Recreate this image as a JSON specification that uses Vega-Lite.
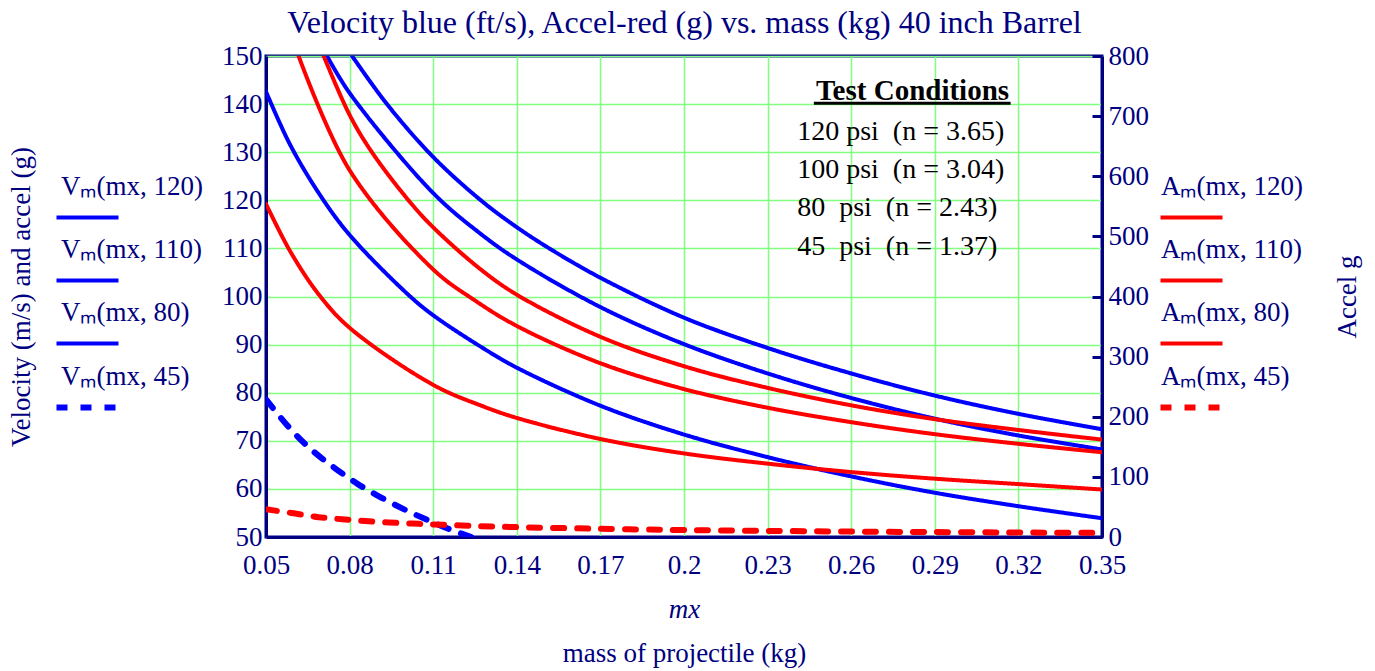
{
  "$schema": "https://vega.github.io/schema/vega-lite/v6.json",
  "width": 836,
  "height": 481,
  "autosize": {"type": "none"},
  "padding": {"left": 266, "top": 56, "right": 273, "bottom": 134},
  "background": "white",
  "datasets": {
    "vel": [
      {"p": "120", "mx": 0.0809, "v": 150}, {"p": "120", "mx": 0.0934, "v": 140}, {"p": "120", "mx": 0.11, "v": 129.0}, {"p": "120", "mx": 0.1271, "v": 120}, {"p": "120", "mx": 0.14, "v": 114.4}, {"p": "120", "mx": 0.1525, "v": 109.7}, {"p": "120", "mx": 0.17, "v": 103.9}, {"p": "120", "mx": 0.2, "v": 95.6}, {"p": "120", "mx": 0.23, "v": 89.3}, {"p": "120", "mx": 0.26, "v": 84.0}, {"p": "120", "mx": 0.29, "v": 79.4}, {"p": "120", "mx": 0.32, "v": 75.6}, {"p": "120", "mx": 0.35, "v": 72.4},
      {"p": "110", "mx": 0.0719, "v": 150}, {"p": "110", "mx": 0.08, "v": 142.3}, {"p": "110", "mx": 0.11, "v": 121.5}, {"p": "110", "mx": 0.1271, "v": 113.0}, {"p": "110", "mx": 0.14, "v": 107.7}, {"p": "110", "mx": 0.17, "v": 97.8}, {"p": "110", "mx": 0.2, "v": 90.1}, {"p": "110", "mx": 0.23, "v": 84.0}, {"p": "110", "mx": 0.26, "v": 78.9}, {"p": "110", "mx": 0.29, "v": 74.6}, {"p": "110", "mx": 0.32, "v": 71.1}, {"p": "110", "mx": 0.35, "v": 68.2},
      {"p": "80", "mx": 0.05, "v": 142.6}, {"p": "80", "mx": 0.0587, "v": 131.5}, {"p": "80", "mx": 0.0695, "v": 121.0}, {"p": "80", "mx": 0.08, "v": 112.8}, {"p": "80", "mx": 0.101, "v": 100.4}, {"p": "80", "mx": 0.11, "v": 96.1}, {"p": "80", "mx": 0.1275, "v": 89.4}, {"p": "80", "mx": 0.14, "v": 85.2}, {"p": "80", "mx": 0.17, "v": 77.3}, {"p": "80", "mx": 0.2, "v": 71.3}, {"p": "80", "mx": 0.23, "v": 66.6}, {"p": "80", "mx": 0.26, "v": 62.6}, {"p": "80", "mx": 0.29, "v": 59.2}, {"p": "80", "mx": 0.32, "v": 56.4}, {"p": "80", "mx": 0.35, "v": 53.9},
      {"p": "45", "mx": 0.05, "v": 78.6}, {"p": "45", "mx": 0.0587, "v": 72.5}, {"p": "45", "mx": 0.0662, "v": 68.2}, {"p": "45", "mx": 0.0743, "v": 64.5}, {"p": "45", "mx": 0.0827, "v": 61.1}, {"p": "45", "mx": 0.091, "v": 58.3}, {"p": "45", "mx": 0.0994, "v": 55.8}, {"p": "45", "mx": 0.1077, "v": 53.6}, {"p": "45", "mx": 0.1155, "v": 51.7}, {"p": "45", "mx": 0.1245, "v": 49.8}
    ],
    "acc": [
      {"p": "120", "mx": 0.0707, "a": 800}, {"p": "120", "mx": 0.08, "a": 702}, {"p": "120", "mx": 0.088, "a": 640}, {"p": "120", "mx": 0.1015, "a": 558}, {"p": "120", "mx": 0.11, "a": 515}, {"p": "120", "mx": 0.1268, "a": 446}, {"p": "120", "mx": 0.14, "a": 403}, {"p": "120", "mx": 0.17, "a": 333}, {"p": "120", "mx": 0.2, "a": 284}, {"p": "120", "mx": 0.23, "a": 248}, {"p": "120", "mx": 0.26, "a": 219}, {"p": "120", "mx": 0.29, "a": 196}, {"p": "120", "mx": 0.32, "a": 178}, {"p": "120", "mx": 0.35, "a": 162},
      {"p": "110", "mx": 0.0617, "a": 800}, {"p": "110", "mx": 0.08, "a": 610}, {"p": "110", "mx": 0.11, "a": 445}, {"p": "110", "mx": 0.1251, "a": 393}, {"p": "110", "mx": 0.14, "a": 351}, {"p": "110", "mx": 0.17, "a": 289}, {"p": "110", "mx": 0.2, "a": 246}, {"p": "110", "mx": 0.23, "a": 215}, {"p": "110", "mx": 0.26, "a": 191}, {"p": "110", "mx": 0.29, "a": 171}, {"p": "110", "mx": 0.32, "a": 155}, {"p": "110", "mx": 0.35, "a": 141},
      {"p": "80", "mx": 0.05, "a": 554}, {"p": "80", "mx": 0.0587, "a": 475}, {"p": "80", "mx": 0.069, "a": 403}, {"p": "80", "mx": 0.08, "a": 348}, {"p": "80", "mx": 0.11, "a": 253}, {"p": "80", "mx": 0.1275, "a": 218}, {"p": "80", "mx": 0.14, "a": 198}, {"p": "80", "mx": 0.17, "a": 163}, {"p": "80", "mx": 0.2, "a": 139}, {"p": "80", "mx": 0.23, "a": 122}, {"p": "80", "mx": 0.26, "a": 108}, {"p": "80", "mx": 0.29, "a": 97}, {"p": "80", "mx": 0.32, "a": 88}, {"p": "80", "mx": 0.35, "a": 79},
      {"p": "45", "mx": 0.05, "a": 46}, {"p": "45", "mx": 0.0605, "a": 39}, {"p": "45", "mx": 0.0689, "a": 33}, {"p": "45", "mx": 0.0773, "a": 29.5}, {"p": "45", "mx": 0.0856, "a": 26.5}, {"p": "45", "mx": 0.094, "a": 24.2}, {"p": "45", "mx": 0.1024, "a": 22.4}, {"p": "45", "mx": 0.1096, "a": 21}, {"p": "45", "mx": 0.1263, "a": 18.2}, {"p": "45", "mx": 0.1423, "a": 16.2}, {"p": "45", "mx": 0.16, "a": 14.5}, {"p": "45", "mx": 0.1768, "a": 13.1}, {"p": "45", "mx": 0.2, "a": 11.6}, {"p": "45", "mx": 0.26, "a": 9.0}, {"p": "45", "mx": 0.35, "a": 6.8}
    ]
  },
  "layer": [
    {
      "layer": [
        {
          "data": {"name": "vel"},
          "mark": {"type": "line", "interpolate": "catmull-rom", "clip": true, "strokeCap": "round"},
          "encoding": {
            "x": {"field": "mx", "type": "quantitative", "scale": {"domain": [0.05, 0.35], "nice": false, "zero": false},
              "axis": {"orient": "bottom", "values": [0.05, 0.08, 0.11, 0.14, 0.17, 0.2, 0.23, 0.26, 0.29, 0.32, 0.35], "labelExpr": "format(datum.value, '.2~f')", "labelFlush": false, "ticks": false, "tickSize": 0, "labelPadding": 15, "grid": true, "title": "mx", "titleFontStyle": "italic", "titlePadding": 18}},
            "y": {"field": "v", "type": "quantitative", "scale": {"domain": [50, 150], "nice": false, "zero": false},
              "axis": {"values": [50, 60, 70, 80, 90, 100, 110, 120, 130, 140, 150], "ticks": false, "tickSize": 0, "labelPadding": 4, "grid": true, "title": "Velocity (m/s) and accel (g)", "titlePadding": 186}},
            "color": {"field": "p", "type": "nominal", "scale": {"domain": ["120", "110", "80", "45"], "range": ["#0000FF", "#0000FF", "#0000FF", "#0000FF"]},
              "legend": {"title": null, "orient": "none", "legendX": -197, "legendY": 113, "symbolType": "M-2,2H2", "labelExpr": "'Vₘ(mx, ' + datum.label + ')'", "labelOffset": -45, "labelBaseline": "middle", "rowPadding": 6}},
            "strokeDash": {"field": "p", "type": "nominal", "scale": {"domain": ["120", "110", "80", "45"], "range": [[1, 0], [1, 0], [1, 0], [11, 13]]},
              "legend": {"title": null, "orient": "none", "legendX": -197, "legendY": 113, "symbolType": "M-2,2H2", "labelExpr": "'Vₘ(mx, ' + datum.label + ')'", "labelOffset": -45, "labelBaseline": "middle", "rowPadding": 6}},
            "strokeWidth": {"field": "p", "type": "nominal", "scale": {"type": "ordinal", "domain": ["120", "110", "80", "45"], "range": [4, 4, 4, 6]}, "legend": null}
          }
        },
        {
          "data": {"values": [{}]},
          "mark": {"type": "text", "align": "center", "baseline": "alphabetic", "font": "Liberation Serif", "fontSize": 29, "fontWeight": "bold", "color": "black"},
          "encoding": {"x": {"datum": 0.282}, "y": {"datum": 140.9}, "text": {"value": "Test Conditions"}}
        },
        {
          "data": {"values": [{}]},
          "mark": {"type": "text", "align": "left", "baseline": "alphabetic", "font": "Liberation Serif", "fontSize": 28, "lineHeight": 38.3, "color": "black"},
          "encoding": {"x": {"datum": 0.2406}, "y": {"datum": 132.6}, "text": {"value": ["120 psi\u00a0 (n = 3.65)", "100 psi\u00a0 (n = 3.04)", "80\u00a0 psi\u00a0 (n = 2.43)", "45\u00a0 psi\u00a0 (n = 1.37)"]}}
        }
      ]
    },
    {
      "data": {"name": "acc"},
      "mark": {"type": "line", "interpolate": "catmull-rom", "clip": true, "strokeCap": "round"},
      "encoding": {
        "x": {"field": "mx", "type": "quantitative", "scale": {"domain": [0.05, 0.35], "nice": false, "zero": false},
          "axis": {"orient": "bottom", "labels": false, "ticks": false, "domain": false, "grid": false, "title": "mass of projectile (kg)", "titlePadding": 103}},
        "y": {"field": "a", "type": "quantitative", "scale": {"domain": [0, 800], "nice": false, "zero": false},
          "axis": {"orient": "right", "values": [0, 100, 200, 300, 400, 500, 600, 700, 800], "grid": false, "ticks": true, "tickSize": -10, "tickWidth": 3, "labelPadding": 16, "title": "Accel g", "titleAngle": 270, "titleBaseline": "top", "titlePadding": 186}},
        "color": {"field": "p", "type": "nominal", "scale": {"domain": ["120", "110", "80", "45"], "range": ["#FF0000", "#FF0000", "#FF0000", "#FF0000"]},
          "legend": {"title": null, "orient": "none", "legendX": 907, "legendY": 113, "symbolType": "M-2,2H2", "labelExpr": "'Aₘ(mx, ' + datum.label + ')'", "labelOffset": -49, "labelBaseline": "middle", "rowPadding": 6}},
        "strokeDash": {"field": "p", "type": "nominal", "scale": {"domain": ["120", "110", "80", "45"], "range": [[1, 0], [1, 0], [1, 0], [11, 13]]},
          "legend": {"title": null, "orient": "none", "legendX": 907, "legendY": 113, "symbolType": "M-2,2H2", "labelExpr": "'Aₘ(mx, ' + datum.label + ')'", "labelOffset": -49, "labelBaseline": "middle", "rowPadding": 6}},
        "strokeWidth": {"field": "p", "type": "nominal", "scale": {"type": "ordinal", "domain": ["120", "110", "80", "45"], "range": [4, 4, 4, 6]}, "legend": null}
      }
    },
    {
      "data": {"values": [{}]},
      "mark": {"type": "rule", "color": "black", "strokeWidth": 3},
      "encoding": {
        "x": {"datum": 0.2466, "type": "quantitative", "scale": {"domain": [0.05, 0.35], "nice": false, "zero": false},
          "axis": {"orient": "top", "labels": false, "ticks": false, "domain": false, "grid": false, "title": "Velocity blue (ft/s), Accel-red (g) vs. mass (kg) 40 inch Barrel", "titleFontSize": 32, "titleBaseline": "alphabetic", "titlePadding": 24}},
        "x2": {"datum": 0.3172},
        "y": {"datum": 140.2, "type": "quantitative", "scale": {"domain": [50, 150], "nice": false, "zero": false}, "axis": null}
      }
    }
  ],
  "resolve": {"scale": {"y": "independent", "color": "independent", "strokeDash": "independent", "strokeWidth": "independent"}, "axis": {"x": "independent"}},
  "config": {
    "font": "Liberation Serif",
    "view": {"stroke": "#000080", "strokeWidth": 3},
    "axis": {"labelFont": "Liberation Serif", "titleFont": "Liberation Serif", "labelFontSize": 27, "titleFontSize": 27, "labelColor": "#000080", "titleColor": "#000080", "titleFontWeight": "normal", "domainColor": "#000080", "domainWidth": 3, "gridColor": "#80FF80", "gridWidth": 1.5, "gridOpacity": 1, "tickColor": "#000080"},
    "legend": {"symbolSize": 961, "symbolStrokeWidth": 4, "labelFont": "Liberation Serif", "labelFontSize": 27, "labelColor": "#000080", "labelLimit": 400, "padding": 0}
  }
}
